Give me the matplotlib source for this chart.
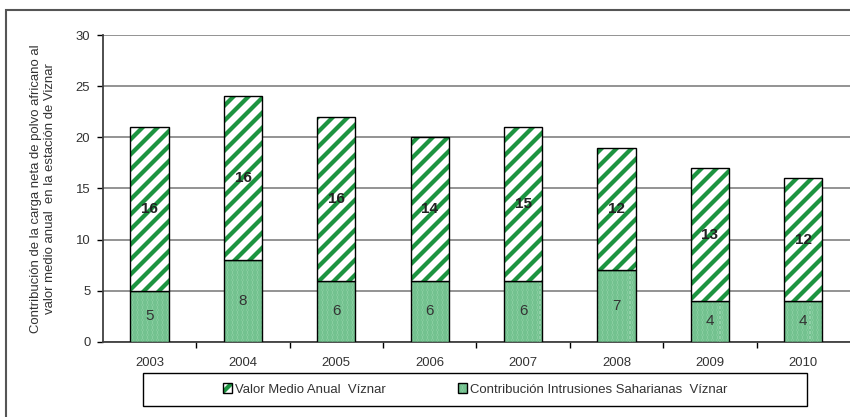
import matplotlib.pyplot as plt
from matplotlib.patches import Rectangle

plt.rcParams['font.family'] = ['Liberation Sans', 'DejaVu Sans']

years = ["2003", "2004", "2005", "2006", "2007", "2008", "2009", "2010"]
sahara = [5, 8, 6, 6, 6, 7, 4, 4]
medio = [16, 16, 16, 14, 15, 12, 13, 12]

# dpi chosen so the hatch stripes get the spacing of the original
DPI = 90
S = 100 / DPI   # keeps text and line sizes as they would be at 100 dpi
plt.rcParams['hatch.linewidth'] = 3.4

fig = plt.figure(figsize=(850 / DPI, 417 / DPI), dpi=DPI)
ax = fig.add_axes([0.121, 0.18, 0.879, 0.736])

# outer chart frame (runs off the right and bottom edge)
fig.patches.append(Rectangle((6 / 850, -0.1), 2, 1.1 - 10 / 417,
                             transform=fig.transFigure, fill=False,
                             edgecolor='#555555', linewidth=1.5 * S))

x = range(len(years))
w = 0.41
b1 = ax.bar(x, sahara, w, color='#c2ead0', edgecolor='black', linewidth=1 * S,
            hatch='......', label='Contribución Intrusiones Saharianas  Víznar',
            zorder=3)
b2 = ax.bar(x, medio, w, bottom=sahara, color='white', edgecolor='black',
            linewidth=1 * S, hatch='//', label='Valor Medio Anual  Víznar', zorder=3)

for r in b1:
    r._hatch_color = (0.45, 0.76, 0.56, 1)
for r in b2:
    r._hatch_color = (0.11, 0.58, 0.25, 1)

for i in x:
    ax.text(i, sahara[i] / 2, str(sahara[i]), ha='center', va='center',
            fontsize=11 * S, color='#333333', zorder=4)
    ax.text(i, sahara[i] + medio[i] / 2, str(medio[i]), ha='center', va='center',
            fontsize=11 * S, fontweight='bold', color='#222222', zorder=4)

ax.set_xlim(-0.5, len(years) - 0.5)
ax.set_ylim(0, 30)
ax.set_yticks(range(0, 31, 5))
ax.set_xticks(list(x))
ax.set_xticklabels(years)
ax.set_xticks([i + 0.5 for i in range(len(years) - 1)], minor=True)
ax.tick_params(axis='x', which='major', length=0, labelsize=9.5 * S,
               pad=11 * S, labelcolor='#333333')
ax.tick_params(axis='x', which='minor', length=4 * S, direction='out', width=1 * S)
ax.tick_params(axis='y', length=4 * S, direction='out', labelsize=9.5 * S,
               width=1 * S, labelcolor='#333333', pad=5 * S)
ax.grid(axis='y', color='#808080', linewidth=1.2 * S, zorder=0)
for s in ['top', 'right']:
    ax.spines[s].set_visible(False)
for s in ['left', 'bottom']:
    ax.spines[s].set_linewidth(1.3 * S)
    ax.spines[s].set_color('#404040')

ax.set_ylabel('Contribución de la carga neta de polvo africano al\n'
              'valor medio anual  en la estación de Viznar', fontsize=9.5 * S,
              labelpad=14 * S, color='#333333')

# legend box
fig.patches.append(Rectangle((143 / 850, 1 - 406 / 417), 664 / 850, 33 / 417,
                             transform=fig.transFigure, fill=False,
                             edgecolor='black', linewidth=1 * S))
leg = fig.legend(handles=[b2, b1], loc='center', ncol=2,
                 bbox_to_anchor=(475 / 850, 1 - 389.5 / 417),
                 fontsize=9.5 * S, frameon=False,
                 handlelength=0.7, handleheight=0.7, handletextpad=0.2,
                 columnspacing=5.5)
for t in leg.get_texts():
    t.set_color('#333333')

fig.savefig('out.png', dpi=DPI)
